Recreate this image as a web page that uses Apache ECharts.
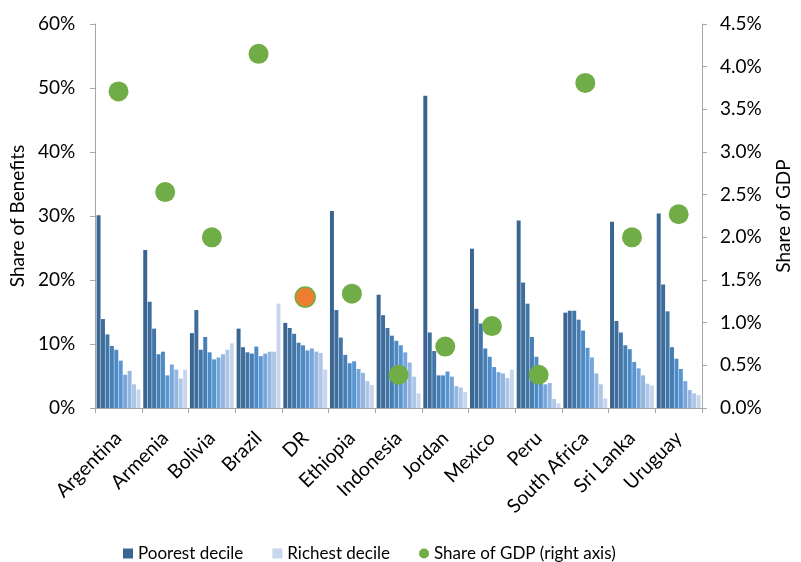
<!DOCTYPE html>
<html>
<head>
<meta charset="utf-8">
<script src="https://cdn.jsdelivr.net/npm/echarts@6/dist/echarts.min.js"></script>
<style>html,body{margin:0;padding:0;background:#fff;overflow:hidden}#c{width:801px;height:562px}</style>
</head>
<body>
<div id="c"></div>
<script>
const countries = ['Argentina','Armenia','Bolivia','Brazil','DR','Ethiopia','Indonesia','Jordan','Mexico','Peru','South Africa','Sri Lanka','Uruguay'];
// share of benefits (%) by decile, poorest to richest
const argentina   = [30.1, 13.9, 11.5, 9.7, 9.1, 7.4, 5.2, 5.8, 3.7, 2.9];
const armenia     = [24.7, 16.6, 12.4, 8.4, 8.8, 5.1, 6.8, 6.0, 4.6, 6.0];
const bolivia     = [11.7, 15.3, 9.1, 11.1, 8.7, 7.6, 7.9, 8.4, 9.1, 10.1];
const brazil      = [12.4, 9.5, 8.7, 8.5, 9.6, 8.1, 8.5, 8.8, 8.8, 16.3];
const dr          = [13.3, 12.5, 11.6, 10.2, 9.8, 9.0, 9.3, 8.8, 8.6, 6.0];
const ethiopia    = [30.8, 15.3, 11.0, 8.3, 7.0, 7.3, 6.1, 5.5, 4.2, 3.6];
const indonesia   = [17.7, 14.5, 12.5, 11.3, 10.5, 9.8, 8.7, 7.1, 4.9, 2.3];
const jordan      = [48.8, 11.8, 8.9, 5.1, 5.1, 5.7, 4.9, 3.4, 3.2, 2.5];
const mexico      = [24.9, 15.5, 13.2, 9.3, 8.0, 6.4, 5.6, 5.4, 4.7, 6.0];
const peru        = [29.3, 19.6, 16.3, 11.1, 8.0, 5.4, 3.7, 3.9, 1.4, 0.7];
const southAfrica = [14.9, 15.2, 15.2, 13.8, 12.1, 9.4, 7.9, 5.4, 3.7, 1.5];
const sriLanka    = [29.1, 13.6, 11.8, 9.8, 9.2, 7.2, 6.2, 5.1, 3.8, 3.5];
const uruguay     = [30.4, 19.3, 15.1, 9.5, 7.7, 6.1, 4.2, 2.8, 2.3, 2.0];
// share of GDP (%) right axis
const gdpShare = [3.71, 2.53, 2.0, 4.15, 1.30, 1.34, 0.39, 0.72, 0.96, 0.39, 3.81, 2.0, 2.27];
const leftTicks = [0, 10, 20, 30, 40, 50, 60];
const rightTicks = [0, 0.5, 1, 1.5, 2, 2.5, 3, 3.5, 4, 4.5];

const byCountry = [argentina, armenia, bolivia, brazil, dr, ethiopia, indonesia, jordan, mexico, peru, southAfrica, sriLanka, uruguay];
const decileColors = ['#3A6591','#3E6D9C','#4275A8','#477FB5','#4E8AC4','#5896D3','#79A6DA','#94B6E0','#AFC6E6','#C7D6EE'];
const decileNames = ['Poorest decile','Decile 2','Decile 3','Decile 4','Decile 5','Decile 6','Decile 7','Decile 8','Decile 9','Richest decile'];

const font = 'Lato, "Open Sans", sans-serif';
const series = [];
for (let d = 0; d < 10; d++) {
  series.push({
    name: decileNames[d],
    type: 'bar',
    yAxisIndex: 0,
    barGap: '12%',
    barCategoryGap: '6%',
    itemStyle: { color: decileColors[d] },
    data: byCountry.map(c => c[d])
  });
}
series.push({
  name: 'Share of GDP (right axis)',
  type: 'scatter',
  yAxisIndex: 1,
  symbolSize: 20,
  z: 10,
  itemStyle: { color: '#70AD47', opacity: 1 },
  data: gdpShare.map((v, i) => countries[i] === 'DR'
    ? { value: v, itemStyle: { color: '#ED7D31', borderColor: '#70AD47', borderWidth: 1.5 } }
    : v)
});

const chart = echarts.init(document.getElementById('c'), null, { renderer: 'canvas' });
chart.setOption({
  animation: false,
  textStyle: { fontFamily: font },
  grid: { left: 95, right: 91, top: 24, bottom: 154, containLabel: false },
  legend: {
    data: [
      { name: 'Poorest decile', icon: 'rect' },
      { name: 'Richest decile', icon: 'rect' },
      { name: 'Share of GDP (right axis)', icon: 'circle' }
    ],
    top: 540,
    left: 118,
    itemWidth: 10,
    itemHeight: 10,
    itemGap: 29,
    textStyle: { fontSize: 17, color: '#000', fontFamily: font }
  },
  xAxis: {
    type: 'category',
    data: countries,
    axisLine: { lineStyle: { color: '#A6A6A6', width: 1 } },
    axisTick: { show: true, length: 5, alignWithLabel: false, lineStyle: { color: '#A6A6A6' } },
    axisLabel: { rotate: 45, fontSize: 19.5, color: '#000', margin: 27, interval: 0, fontFamily: font }
  },
  yAxis: [
    {
      type: 'value', min: leftTicks[0], max: leftTicks[leftTicks.length - 1], interval: 10,
      name: 'Share of Benefits', nameLocation: 'middle', nameGap: 67, nameRotate: 90,
      nameTextStyle: { fontSize: 19, color: '#000', fontFamily: font },
      axisLine: { show: true, lineStyle: { color: '#A6A6A6' } },
      axisTick: { show: true, length: 5, lineStyle: { color: '#A6A6A6' } },
      splitLine: { show: false },
      axisLabel: { fontSize: 19, color: '#000', margin: 20, formatter: v => v + '%', fontFamily: font }
    },
    {
      type: 'value', min: rightTicks[0], max: rightTicks[rightTicks.length - 1], interval: 0.5,
      position: 'right',
      name: 'Share of GDP', nameLocation: 'middle', nameGap: 72, nameRotate: 90,
      nameTextStyle: { fontSize: 19, color: '#000', fontFamily: font },
      axisLine: { show: true, lineStyle: { color: '#A6A6A6' } },
      axisTick: { show: true, length: 5, lineStyle: { color: '#A6A6A6' } },
      splitLine: { show: false },
      axisLabel: { fontSize: 19, color: '#000', margin: 18, formatter: v => v.toFixed(1) + '%', fontFamily: font }
    }
  ],
  series: series
});
</script>
</body>
</html>
